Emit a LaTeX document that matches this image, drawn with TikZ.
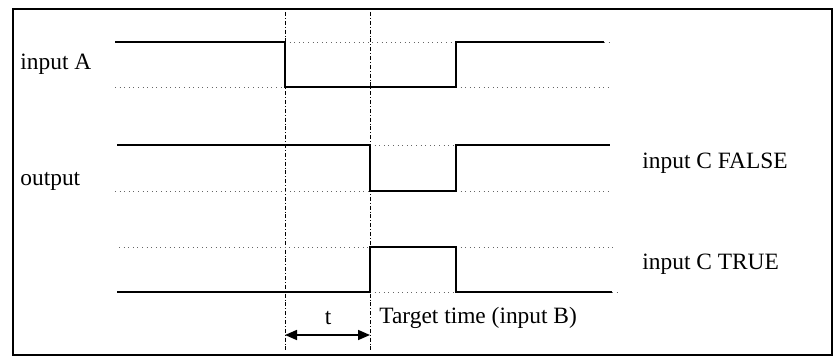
\documentclass[tikz,border=0pt]{standalone}
\usepackage{fontspec}
\setmainfont{Liberation Serif}
\usetikzlibrary{arrows.meta}
\tikzset{
  signal/.style={line width=0.8pt},
  guide/.style={line width=0.3pt, dotted, gray!80!black},
  marker/.style={line width=0.4pt, dash pattern=on 2pt off 1pt on 0.4pt off 1pt},
  lbl/.style={font=\fontsize{11.7}{14}\selectfont, inner sep=0pt}
}
\begin{document}
\begin{tikzpicture}[x=0.5pt,y=-0.5pt]
            \useasboundingbox (0,0) rectangle (834,358);
            \draw[line width=1.2pt] (13,9) rectangle (832,355);
            % time marks
            \draw[marker] (285,12) -- (285,352);
            \draw[marker] (370,12) -- (370,352);
            % input A
            \draw[guide] (115,87) -- (285,87);
            \draw[guide] (285,42) -- (456,42);
            \draw[guide] (456,87) -- (612,87);
            \draw[guide] (604,42) -- (613,42);
            \draw[signal] (115,42) -- (285,42) -- (285,87) -- (456,87) -- (456,42) -- (604,42);
            % output, input C FALSE
            \draw[guide] (115,191) -- (370,191);
            \draw[guide] (370,145) -- (456,145);
            \draw[guide] (456,191) -- (611,191);
            \draw[signal] (117,145) -- (370,145) -- (370,191) -- (456,191) -- (456,145) -- (610,145);
            % output, input C TRUE
            \draw[guide] (119,247) -- (370,247);
            \draw[guide] (456,247) -- (616,247);
            \draw[guide] (370,292) -- (456,292);
            \draw[guide] (612,292) -- (617,292);
            \draw[signal] (117,292) -- (370,292) -- (370,247) -- (456,247) -- (456,292) -- (612,292);
            % delay
            \draw[line width=0.8pt, {Triangle[length=6pt,width=5pt]}-{Triangle[length=6pt,width=5pt]}] (285,335) -- (370,335);
            \node[lbl] (t) at (328,318) {t};
            \node[lbl, anchor=west] (target) at (379,318) {Target time (input B)};
            % labels
            \node[lbl, anchor=west] (inA) at (20,64) {input A};
            \node[lbl, anchor=west] (out) at (20,181) {output};
            \node[lbl, anchor=west] (cfalse) at (642,163) {input C FALSE};
            \node[lbl, anchor=west] (ctrue) at (642,264) {input C TRUE};
        \end{tikzpicture}
\end{document}
